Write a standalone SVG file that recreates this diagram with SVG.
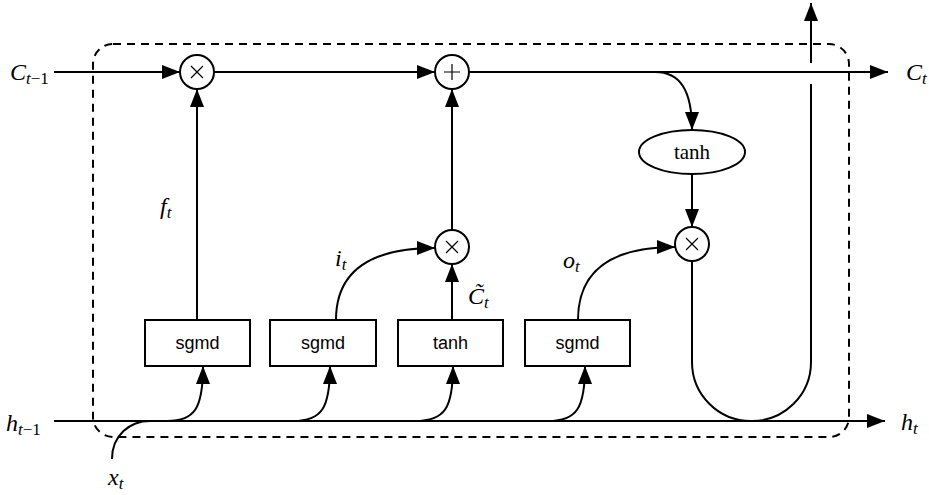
<svg xmlns="http://www.w3.org/2000/svg" width="929" height="495" viewBox="0 0 929 495">
<style>
.ln{fill:none;stroke:#000;stroke-width:2}
.arr{fill:none;stroke:#000;stroke-width:2;marker-end:url(#ah)}
.box{fill:#fff;stroke:#000;stroke-width:2}
.op{fill:#fff;stroke:#000;stroke-width:2}
.sym{fill:none;stroke:#000;stroke-width:1.2}
.bt{font-family:"Liberation Sans","Open Sans",sans-serif;font-size:18px;text-anchor:middle;fill:#000}
.et{font-family:"Liberation Serif","DejaVu Serif",serif;font-size:21px;text-anchor:middle;fill:#000}
.m{font-family:"Liberation Serif","DejaVu Serif",serif;font-style:italic;font-size:24px;fill:#000}
.s{font-size:17px}
.n{font-style:normal}
</style>
<defs>
<marker id="ah" markerUnits="userSpaceOnUse" markerWidth="18" markerHeight="14" refX="18" refY="7" orient="auto">
<path d="M0,0 L18,7 L0,14 z" fill="#000"/>
</marker>
</defs>
<rect x="93" y="44" width="756" height="393" rx="20" ry="20" fill="none" stroke="#000" stroke-width="2" stroke-dasharray="8,6"/>
<g id="connectors">
<path class="arr" d="M54,72 H180"/>
<path class="arr" d="M214,72 H435"/>
<path class="arr" d="M469,72 H888"/>
<path class="arr" d="M655,72 C680,72 692,90 692,130"/>
<path class="arr" d="M692,174 V227"/>
<path class="ln" d="M692,261 V362 A59,59 0 0 0 751,421 A59,59 0 0 0 811,362 V84"/>
<path class="arr" d="M811,63 V3"/>
<path class="ln" d="M54,421 H751"/>
<path class="arr" d="M751,421 H885"/>
<path class="ln" d="M112,459 C112,435 130,421 150,421"/>
<path class="arr" d="M167,421 C195,421 203,408 203,366"/>
<path class="arr" d="M293,421 C322,421 330,408 330,366"/>
<path class="arr" d="M415,421 C445,421 453,408 453,366"/>
<path class="arr" d="M548,421 C577,421 585,408 585,366"/>
<path class="arr" d="M197,320 V89"/>
<path class="arr" d="M336,320 C336,275 365,248 435,248"/>
<path class="arr" d="M452,320 V264"/>
<path class="arr" d="M452,230 V89"/>
<path class="arr" d="M578,320 C578,275 605,247 675,247"/>
</g>
<g id="mul1"><circle class="op" cx="197" cy="72" r="17"/><path class="sym" d="M191,66 L203,78 M203,66 L191,78"/></g>
<g id="add"><circle class="op" cx="452" cy="72" r="17"/><path class="sym" d="M452,64 V80 M444,72 H460"/></g>
<g id="mul2"><circle class="op" cx="452" cy="247" r="17"/><path class="sym" d="M446,241 L458,253 M458,241 L446,253"/></g>
<g id="mul3"><circle class="op" cx="692" cy="244" r="17"/><path class="sym" d="M686,238 L698,250 M698,238 L686,250"/></g>
<g id="tanh2"><ellipse class="op" cx="692" cy="152" rx="53" ry="22"/><text class="et" x="692" y="159">tanh</text></g>
<g id="box1"><rect class="box" x="145" y="320" width="105" height="46"/><text class="bt" x="197.5" y="349">sgmd</text></g>
<g id="box2"><rect class="box" x="270" y="320" width="106" height="46"/><text class="bt" x="323" y="349">sgmd</text></g>
<g id="box3"><rect class="box" x="398" y="320" width="105" height="46"/><text class="bt" x="450.5" y="349">tanh</text></g>
<g id="box4"><rect class="box" x="525" y="320" width="105" height="46"/><text class="bt" x="577.5" y="349">sgmd</text></g>
<g id="labels">
<text class="m" x="10" y="80">C<tspan class="s" dy="4">t</tspan><tspan class="s n">−1</tspan></text>
<text class="m" x="906" y="80">C<tspan class="s" dy="4">t</tspan></text>
<text class="m" x="6" y="431">h<tspan class="s" dy="4">t</tspan><tspan class="s n">−1</tspan></text>
<text class="m" x="901" y="430">h<tspan class="s" dy="4">t</tspan></text>
<text class="m" x="108" y="485">x<tspan class="s" dy="4">t</tspan></text>
<text class="m" x="160" y="214">f<tspan class="s" dy="4">t</tspan></text>
<text class="m" x="335" y="266">i<tspan class="s" dy="4">t</tspan></text>
<text class="m" x="468" y="304">C̃<tspan class="s" dy="4">t</tspan></text>
<text class="m" x="563" y="268">o<tspan class="s" dy="4">t</tspan></text>
</g>
</svg>
